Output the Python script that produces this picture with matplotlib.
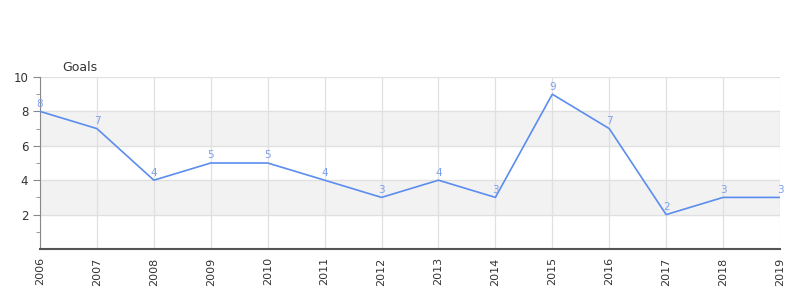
import matplotlib.pyplot as plt

years = [2006, 2007, 2008, 2009, 2010, 2011, 2012, 2013, 2014, 2015, 2016, 2017, 2018, 2019]
goals = [8, 7, 4, 5, 5, 4, 3, 4, 3, 9, 7, 2, 3, 3]

fig = plt.figure(figsize=(8, 3), dpi=100)
ax = fig.add_axes([0.05, 0.17, 0.925, 0.5733])

# alternating bands
for lo, hi in [(2, 4), (6, 8)]:
    ax.axhspan(lo, hi, color='#f2f2f2', zorder=0)

ax.plot(years, goals, color='#5b8def', lw=1.2, zorder=3)
for x, y in zip(years, goals):
    ax.text(x, y + 0.15, str(y), ha='center', va='bottom', fontsize=7.5, color='#7d9ff0', zorder=4)

ax.set_xlim(2006, 2019)
ax.set_ylim(0, 10)
ax.set_xticks(years)
ax.set_xticklabels([str(y) for y in years], rotation=90, fontsize=8, color='#333333')
ax.set_yticks([2, 4, 6, 8, 10])
ax.set_yticks([1, 3, 5, 7, 9], minor=True)
ax.tick_params(axis='y', which='major', labelsize=8.5, length=5, color='#888888', labelcolor='#333333')
ax.tick_params(axis='y', which='minor', length=3, color='#888888')
ax.tick_params(axis='x', length=0, pad=6)

ax.grid(True, which='major', color='#e0e0e0', lw=0.9, zorder=1)
ax.set_axisbelow(True)

for s in ['top', 'right']:
    ax.spines[s].set_visible(False)
ax.spines['left'].set_color('#888888')
ax.spines['bottom'].set_color('#555555')
ax.spines['bottom'].set_linewidth(1.5)

ax.text(0.03, 1.02, 'Goals', transform=ax.transAxes, fontsize=9, color='#333333', ha='left', va='bottom')

fig.savefig('out.png', dpi=100)
